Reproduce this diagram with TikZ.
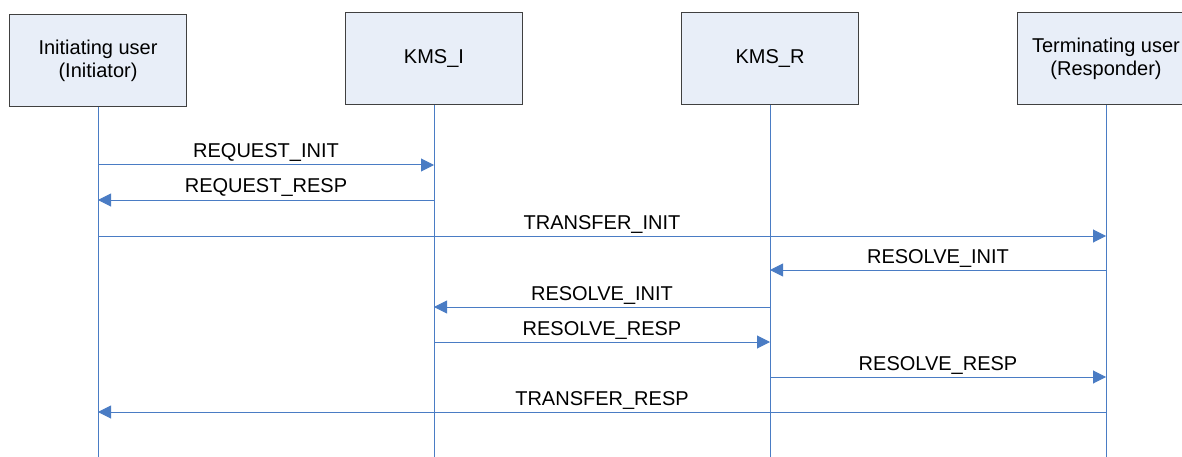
\documentclass[tikz,border=0pt]{standalone}
\usepackage{fontspec}
\setmainfont{Liberation Sans}
\usetikzlibrary{arrows.meta}
\definecolor{boxfill}{HTML}{E8EEF8}
\definecolor{boxline}{HTML}{404040}
\definecolor{msgblue}{HTML}{4A7CC4}
\tikzset{
  actor/.style={draw=boxline, fill=boxfill, line width=1pt, minimum width=177pt, minimum height=92pt, align=center, inner sep=0pt, font=\fontsize{20}{23}\selectfont},
  lifeline/.style={draw=msgblue, line width=1pt},
  msg/.style={draw=msgblue, line width=1pt, -{Triangle[length=13pt,width=13pt]}},
  lbl/.style={font=\fontsize{20}{23}\selectfont, anchor=base, inner sep=0pt}
}
\begin{document}
\begin{tikzpicture}[x=1pt,y=-1pt]
\useasboundingbox (0,0) rectangle (1182,457);
\node[actor] (A) at (98,60.5) {Initiating user\\(Initiator)};
\node[actor] (B) at (434,59) {KMS\_I};
\node[actor] (C) at (770,59) {KMS\_R};
\node[actor] (D) at (1106,59) {Terminating user\\(Responder)};
\coordinate (Ae) at (98,457);
\coordinate (Be) at (434,457);
\coordinate (Ce) at (770,457);
\coordinate (De) at (1106,457);
\draw[lifeline] (A.south) -- (Ae);
\draw[lifeline] (B.south) -- (Be);
\draw[lifeline] (C.south) -- (Ce);
\draw[lifeline] (D.south) -- (De);
% messages
\coordinate (a1) at (98,165); \coordinate (b1) at (434,165);
\draw[msg] (a1) -- (b1);
\node[lbl] (l1) at (266,158) {REQUEST\_INIT};
\coordinate (b2) at (434,200); \coordinate (a2) at (98,200);
\draw[msg] (b2) -- (a2);
\node[lbl] (l2) at (266,193) {REQUEST\_RESP};
\coordinate (a3) at (98,236); \coordinate (d3) at (1106,236);
\draw[msg] (a3) -- (d3);
\node[lbl] (l3) at (602,229) {TRANSFER\_INIT};
\coordinate (d4) at (1106,270); \coordinate (c4) at (770,270);
\draw[msg] (d4) -- (c4);
\node[lbl] (l4) at (938,263) {RESOLVE\_INIT};
\coordinate (c5) at (770,307); \coordinate (b5) at (434,307);
\draw[msg] (c5) -- (b5);
\node[lbl] (l5) at (602,300) {RESOLVE\_INIT};
\coordinate (b6) at (434,342); \coordinate (c6) at (770,342);
\draw[msg] (b6) -- (c6);
\node[lbl] (l6) at (602,335) {RESOLVE\_RESP};
\coordinate (c7) at (770,377); \coordinate (d7) at (1106,377);
\draw[msg] (c7) -- (d7);
\node[lbl] (l7) at (938,370) {RESOLVE\_RESP};
\coordinate (d8) at (1106,412); \coordinate (a8) at (98,412);
\draw[msg] (d8) -- (a8);
\node[lbl] (l8) at (602,405) {TRANSFER\_RESP};
\end{tikzpicture}
\end{document}
